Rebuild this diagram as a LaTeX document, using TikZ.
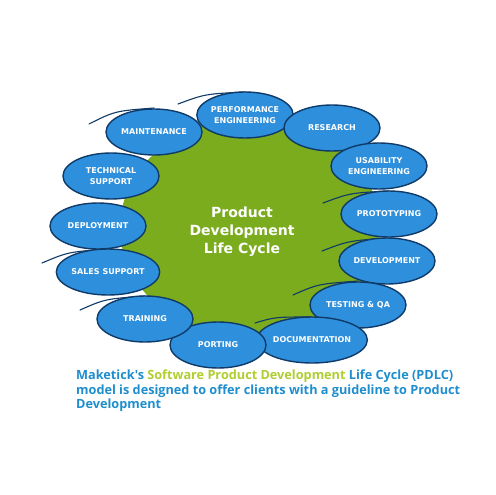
\documentclass[tikz,border=0pt]{standalone}
\usepackage{fontspec}
\setmainfont{DejaVu Sans}
\newfontfamily\captionfont{Open Sans}
\usetikzlibrary{shapes.geometric}
\definecolor{hubgreen}{RGB}{122,172,30}
\definecolor{phaseblue}{RGB}{46,143,220}
\definecolor{phaseline}{RGB}{16,58,104}
\definecolor{capblue}{RGB}{30,142,206}
\definecolor{capgreen}{RGB}{176,206,48}

\begin{document}
\begin{tikzpicture}[x=1pt,y=-1pt,
	phase/.style={ellipse, draw=phaseline, line width=1.4pt, fill=phaseblue,
		minimum width=96pt, minimum height=46pt, inner sep=0pt, align=center,
		text=white, font=\fontsize{8}{11}\selectfont\bfseries},
	hub/.style={align=center, text=white, font=\fontsize{14}{18}\selectfont\bfseries},
	swoosh/.style={draw=phaseline, line width=1.1pt, line cap=round}]

	\fill[white] (0,0) rectangle (495,495);
	\useasboundingbox (0,0) rectangle (495,495);

	% green hub behind the phases
	\fill[hubgreen] (250,228) ellipse [x radius=130pt, y radius=110pt];
	\node[hub] (hub) at (242,232) {Product\\Development\\Life Cycle};

	% brush strokes
	\draw[swoosh] (89,124) .. controls (115,111) .. (154,108);
	\draw[swoosh] (178,104) .. controls (205,94) .. (245,92);
	\draw[swoosh] (323,203) .. controls (350,193) .. (389,191);
	\draw[swoosh] (322,251) .. controls (348,241) .. (387,238);
	\draw[swoosh] (293,295) .. controls (318,284) .. (358,281);
	\draw[swoosh] (255,323) .. controls (275,317) .. (312,317);
	\draw[swoosh] (42,263) .. controls (68,252) .. (108,249);
	\draw[swoosh] (80,310) .. controls (105,299) .. (145,296);

	% phases, clockwise
	\foreach \name/\x/\y/\txt in {
		perf/245/115/{PERFORMANCE\\ENGINEERING},
		research/332/128/{RESEARCH},
		usab/379/166/{USABILITY\\ENGINEERING},
		proto/389/214/{PROTOTYPING},
		devel/387/261/{DEVELOPMENT},
		testing/358/305/{TESTING \& QA},
		docu/312/340/{DOCUMENTATION},
		porting/218/345/{PORTING},
		training/145/319/{TRAINING},
		sales/108/272/{SALES SUPPORT},
		deploy/98/226/{DEPLOYMENT},
		tech/111/176/{TECHNICAL\\SUPPORT},
		maint/154/132/{MAINTENANCE}}{
		\node[phase] (\name) at (\x,\y) {\txt};
	}

	\node[anchor=north west, inner sep=0pt, align=left, text=capblue,
		font=\captionfont\fontsize{12.7}{14.5}\selectfont\bfseries] (caption) at (76,370)
		{Maketick's \textcolor{capgreen}{Software Product Development} Life Cycle (PDLC)\\
		model is designed to offer clients with a guideline to Product\\
		Development};

\end{tikzpicture}
\end{document}
